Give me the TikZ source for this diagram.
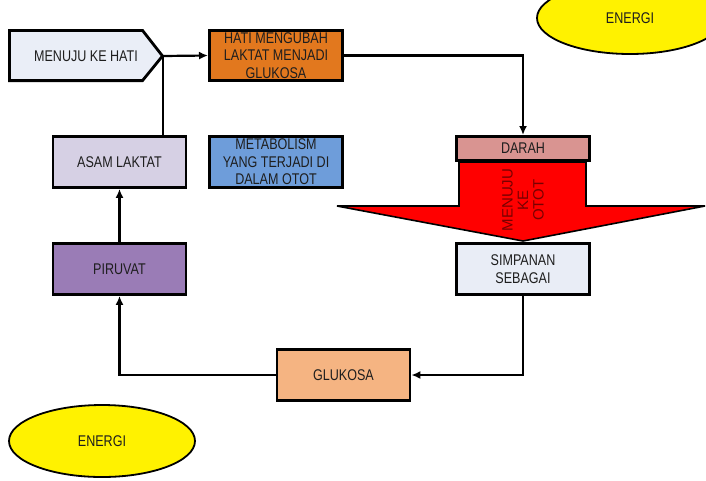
\documentclass[tikz,border=0pt]{standalone}
\usepackage{fontspec}
\setmainfont{Liberation Sans}[FakeStretch=0.81]
\newfontfamily\plainsans{Liberation Sans}
\usetikzlibrary{arrows.meta,shapes.geometric}
\definecolor{cPent}{RGB}{234,238,247}
\definecolor{cHati}{RGB}{226,120,30}
\definecolor{cAsam}{RGB}{214,208,228}
\definecolor{cMeta}{RGB}{110,157,218}
\definecolor{cPiru}{RGB}{154,124,182}
\definecolor{cDarah}{RGB}{217,148,145}
\definecolor{cSimp}{RGB}{233,237,246}
\definecolor{cGluk}{RGB}{245,180,130}
\definecolor{cTxt}{RGB}{30,30,30}
\definecolor{cRedTxt}{RGB}{120,0,0}
\begin{document}
\begin{tikzpicture}[x=1pt,y=-1pt,
  lbl/.style={font=\fontsize{15.5}{17.5}\selectfont, text=cTxt, align=center},
  box/.style={lbl, draw, line width=2.8pt, minimum width=133pt, minimum height=51pt, inner sep=1pt},
  conn/.style={line width=2.2pt},
  tip/.style={-{Latex[length=9pt,width=8pt]}},
  energi/.style={lbl, ellipse, draw, line width=1.8pt, fill=yellow, minimum width=186pt, minimum height=72pt}]
\useasboundingbox (0,0) rectangle (706,480);
% big red arrow
\draw[fill=red, line width=1.6pt, line join=miter] (459,162) -- (586,162) -- (586,206) -- (705,206) -- (523,241) -- (337,206) -- (459,206) -- cycle;
\node[font=\plainsans\fontsize{15}{15.5}\selectfont, text=cRedTxt, align=center, rotate=90] (otot) at (523,200) {MENUJU\\KE\\OTOT};
% pentagon
\draw[fill=cPent, line width=2.8pt, line join=miter] (9.4,30.4) -- (142.5,30.4) -- (162.5,56) -- (142.5,80.6) -- (9.4,80.6) -- cycle;
\coordinate (ptip) at (163,56);
\node[lbl] (menuju) at (86,56) {MENUJU KE HATI};
% boxes
\node[box, fill=cHati, minimum width=133.2pt, minimum height=50.2pt] (hati) at (276,55.5) {HATI MENGUBAH\\LAKTAT MENJADI\\GLUKOSA};
\node[box, fill=cAsam] (asam) at (119.5,162) {ASAM LAKTAT};
\node[box, fill=cMeta, minimum width=133.2pt] (meta) at (276,162) {METABOLISM\\YANG TERJADI DI\\DALAM OTOT};
\node[box, fill=cPiru] (piru) at (119.5,269) {PIRUVAT};
\node[box, fill=cDarah, minimum width=133.2pt, minimum height=24.2pt] (darah) at (523,148.5) {DARAH};
\node[box, fill=cSimp, minimum width=133.2pt] (simp) at (523,269) {SIMPANAN\\SEBAGAI};
\node[box, fill=cGluk] (gluk) at (343.5,375) {GLUKOSA};
% ellipses
\node[energi] (energi1) at (102,441) {ENERGI};
\node[energi] (energi2) at (630,18) {ENERGI};
% connectors
\draw[conn, tip] (ptip) -- (hati.west);
\draw[conn] (ptip) -- (ptip |- asam.north);
\draw[conn, tip] (hati.east) -| (darah.north);
\draw[conn, tip] (piru.north) -- (asam.south);
\draw[conn, tip] (simp.south) |- (gluk.east);
\draw[conn, tip] (gluk.west) -| (piru.south);
\end{tikzpicture}
\end{document}
